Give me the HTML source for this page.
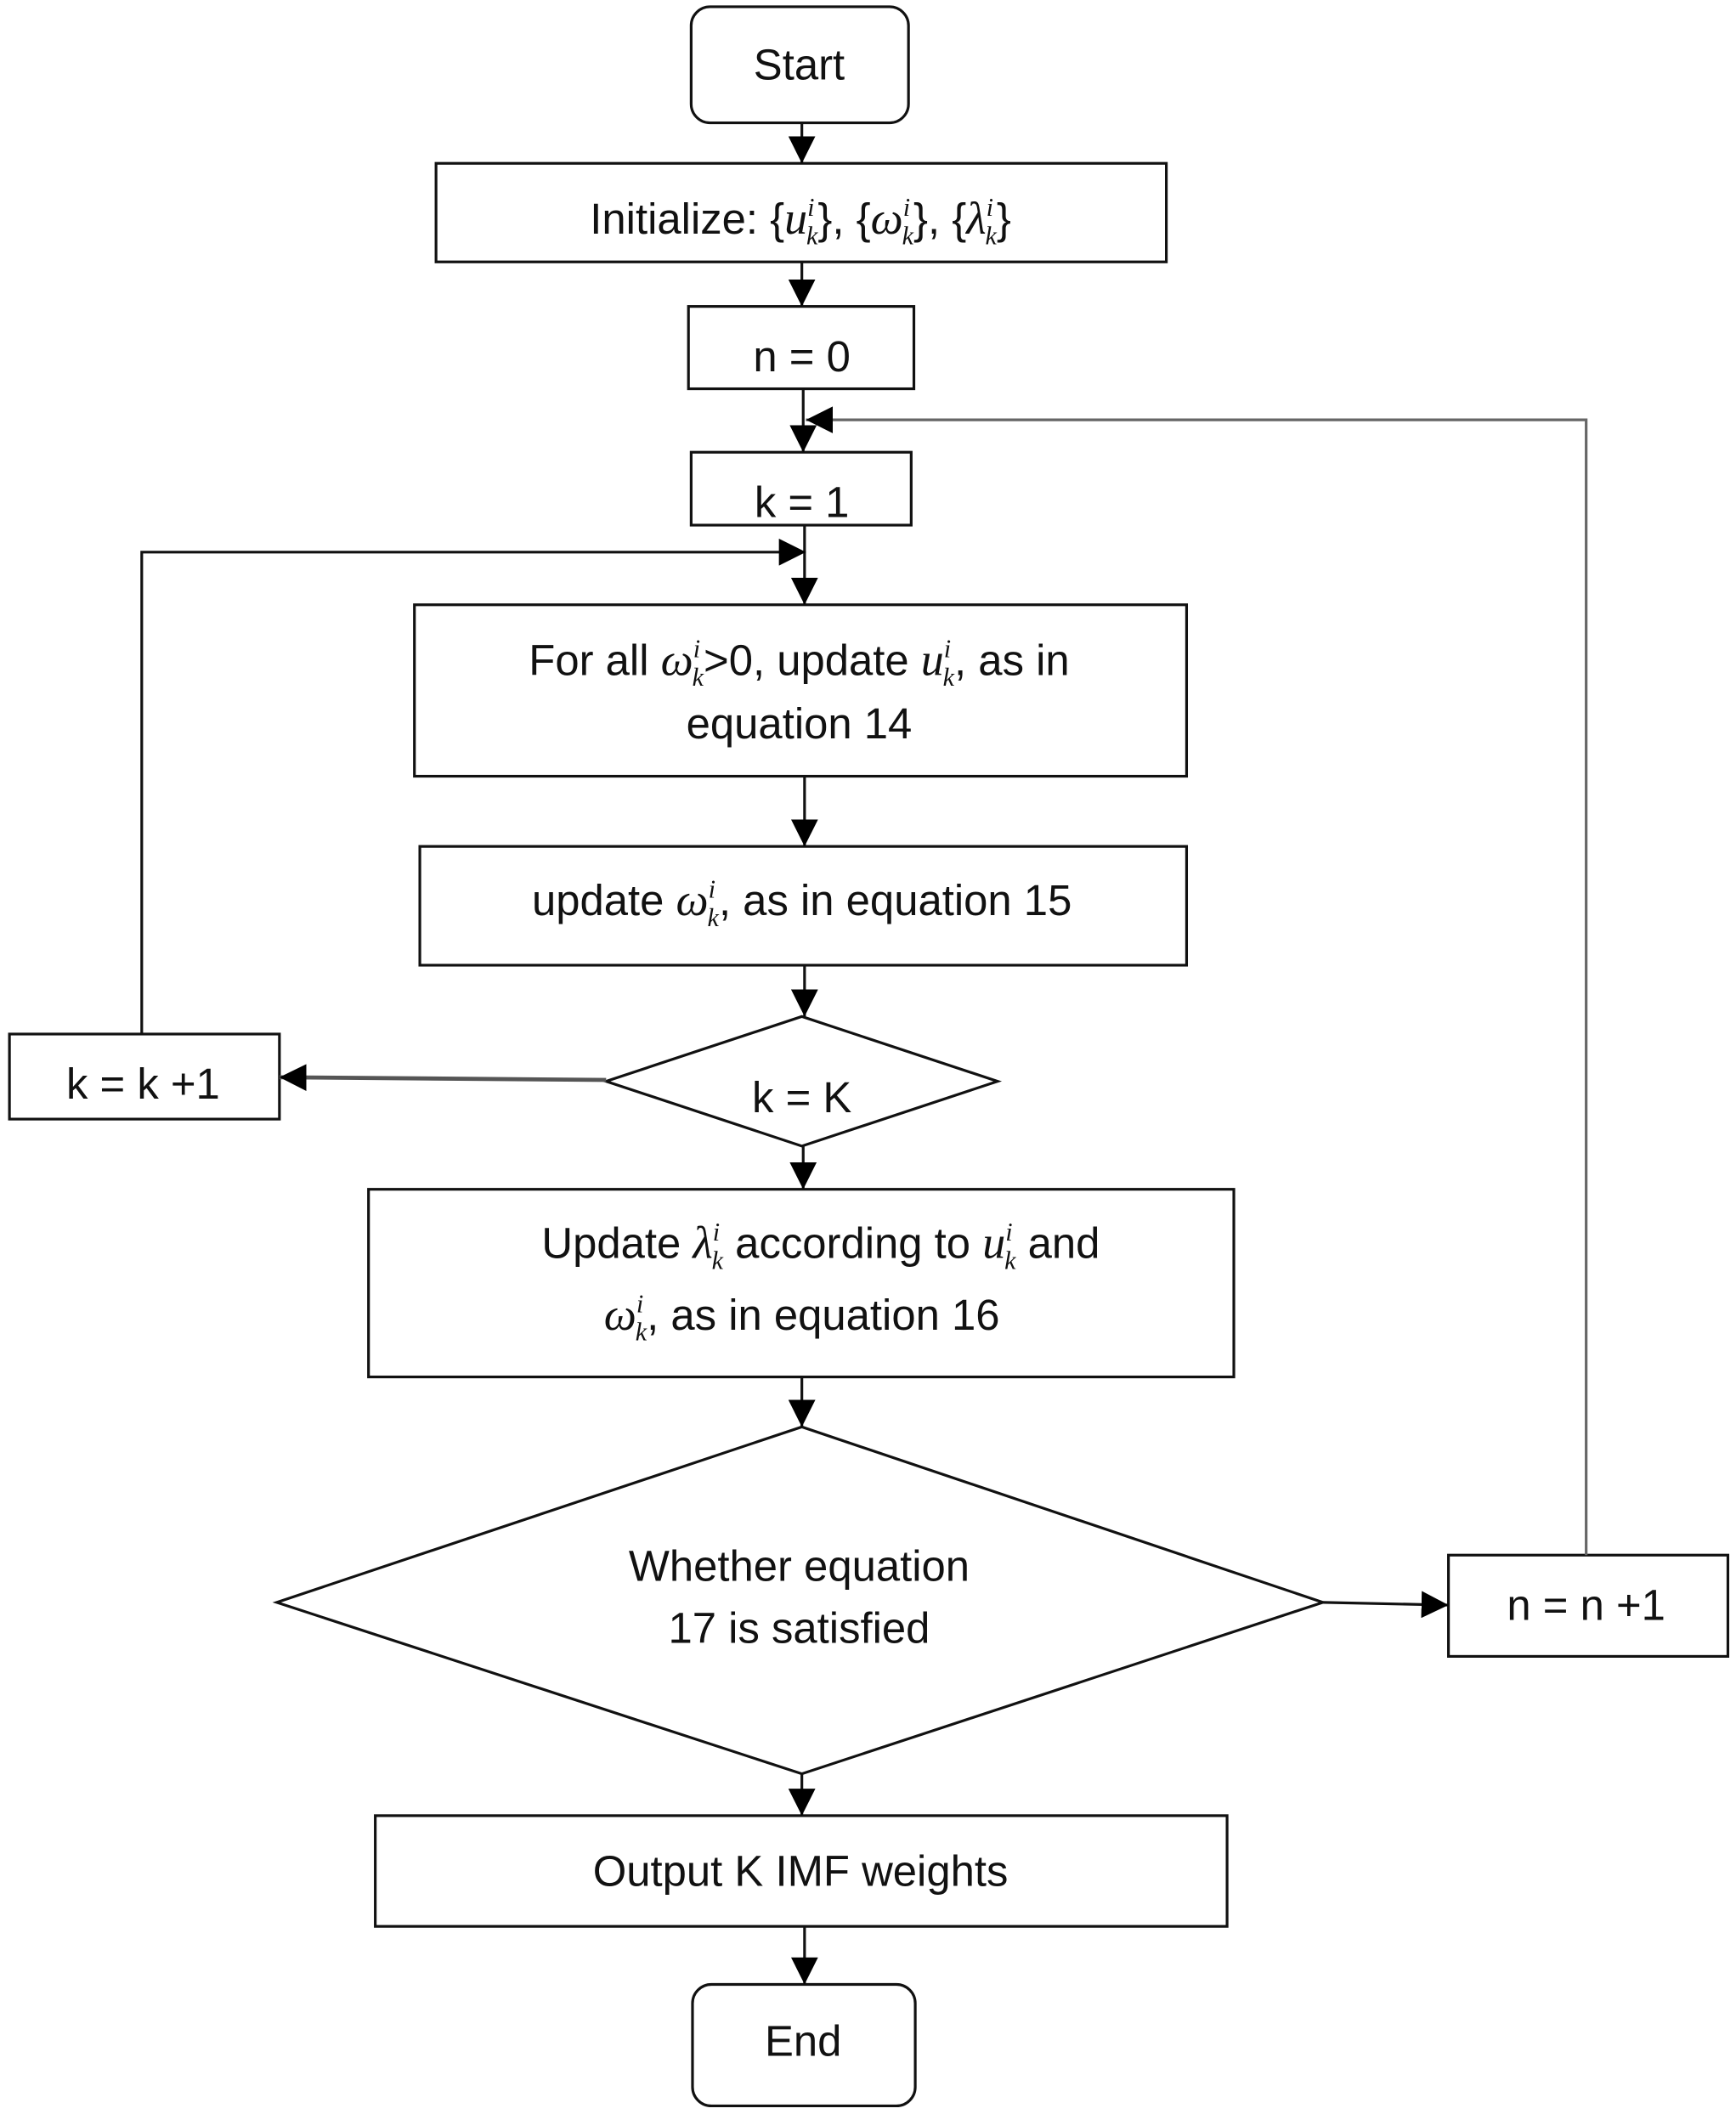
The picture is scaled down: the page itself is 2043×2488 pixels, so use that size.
<!DOCTYPE html>
<html><head><meta charset="utf-8"><style>
html,body{margin:0;padding:0;background:#fff}
svg{display:block}
text{font-family:"Liberation Sans Narrow","Liberation Sans",sans-serif;font-size:32px;fill:#111;text-anchor:middle}
.m{font-family:"Liberation Serif",serif;font-style:italic;font-size:34px}
.s{font-family:"Liberation Serif",serif;font-style:italic;font-size:19px}
</style></head><body>
<svg width="2043" height="2488" viewBox="0 0 1286 1566" preserveAspectRatio="none" xmlns="http://www.w3.org/2000/svg">
<defs>
<marker id="b" viewBox="0 0 10 10" refX="10" refY="5" markerWidth="20" markerHeight="20" markerUnits="userSpaceOnUse" orient="auto"><path d="M0,0L10,5L0,10z" fill="#000"/></marker></defs>
<g fill="none" stroke="#111" stroke-width="2">
<rect x="512" y="5" width="161" height="86" rx="14"/>
<rect x="323" y="121" width="541" height="73"/>
<rect x="510" y="227" width="167" height="61"/>
<rect x="512" y="335" width="163" height="54"/>
<rect x="307" y="448" width="572" height="127"/>
<rect x="311" y="627" width="568" height="88"/>
<polygon points="449,801 594,753 739,801 594,849"/>
<rect x="7" y="766" width="200" height="63"/>
<rect x="273" y="881" width="641" height="139"/>
<polygon points="205,1187 594,1057 980,1187 594,1314"/>
<rect x="1073" y="1152" width="207" height="75"/>
<rect x="278" y="1345" width="631" height="82"/>
<rect x="513" y="1470" width="165" height="90" rx="14"/>
</g>
<g stroke="#111" stroke-width="2" fill="none">
<line x1="594" y1="91" x2="594" y2="121" marker-end="url(#b)"/>
<line x1="594" y1="194" x2="594" y2="227" marker-end="url(#b)"/>
<line x1="595" y1="288" x2="595" y2="335" marker-end="url(#b)"/>
<polyline points="1175,1152 1175,311 597,311" stroke="#666" marker-end="url(#b)"/>
<line x1="596" y1="389" x2="596" y2="448" marker-end="url(#b)"/>
<polyline points="105,766 105,409 597,409" marker-end="url(#b)"/>
<line x1="596" y1="575" x2="596" y2="627" marker-end="url(#b)"/>
<line x1="596" y1="715" x2="596" y2="753" marker-end="url(#b)"/>
<line x1="449" y1="800" x2="207" y2="798" stroke="#555" stroke-width="3" marker-end="url(#b)"/>
<line x1="595" y1="849" x2="595" y2="881" marker-end="url(#b)"/>
<line x1="594" y1="1020" x2="594" y2="1057" marker-end="url(#b)"/>
<line x1="980" y1="1187" x2="1073" y2="1189" marker-end="url(#b)"/>
<line x1="594" y1="1314" x2="594" y2="1345" marker-end="url(#b)"/>
<line x1="596" y1="1427" x2="596" y2="1470" marker-end="url(#b)"/>
</g>
<text x="592" y="59">Start</text>
<text x="593" y="173">Initialize: {<tspan class="m">u</tspan><tspan class="s" dy="-13">i</tspan><tspan class="s" dx="-6" dy="21">k</tspan><tspan dy="-8">}, {</tspan><tspan class="m">ω</tspan><tspan class="s" dy="-13">i</tspan><tspan class="s" dx="-6" dy="21">k</tspan><tspan dy="-8">}, {</tspan><tspan class="m">λ</tspan><tspan class="s" dy="-13">i</tspan><tspan class="s" dx="-6" dy="21">k</tspan><tspan dy="-8">}</tspan></text>
<text x="594" y="275">n = 0</text>
<text x="594" y="383">k = 1</text>
<text x="592" y="500">For all <tspan class="m">ω</tspan><tspan class="s" dy="-13">i</tspan><tspan class="s" dx="-6" dy="21">k</tspan><tspan dy="-8">&gt;0, update </tspan><tspan class="m">u</tspan><tspan class="s" dy="-13">i</tspan><tspan class="s" dx="-6" dy="21">k</tspan><tspan dy="-8">, as in</tspan></text>
<text x="592" y="547">equation 14</text>
<text x="594" y="678">update <tspan class="m">ω</tspan><tspan class="s" dy="-13">i</tspan><tspan class="s" dx="-6" dy="21">k</tspan><tspan dy="-8">, as in equation 15</tspan></text>
<text x="594" y="824">k = K</text>
<text x="106" y="814">k = k +1</text>
<text x="608" y="932">Update  <tspan class="m">λ</tspan><tspan class="s" dy="-13">i</tspan><tspan class="s" dx="-6" dy="21">k</tspan><tspan dy="-8"> according to </tspan><tspan class="m">u</tspan><tspan class="s" dy="-13">i</tspan><tspan class="s" dx="-6" dy="21">k</tspan><tspan dy="-8"> and</tspan></text>
<text x="594" y="985"><tspan class="m">ω</tspan><tspan class="s" dy="-13">i</tspan><tspan class="s" dx="-6" dy="21">k</tspan><tspan dy="-8">, as in equation 16</tspan></text>
<text x="592" y="1171">Whether equation</text>
<text x="592" y="1217">17 is satisfied</text>
<text x="1175" y="1200">n = n +1</text>
<text x="593" y="1397">Output K IMF weights</text>
<text x="595" y="1523">End</text>
</svg>
</body></html>
